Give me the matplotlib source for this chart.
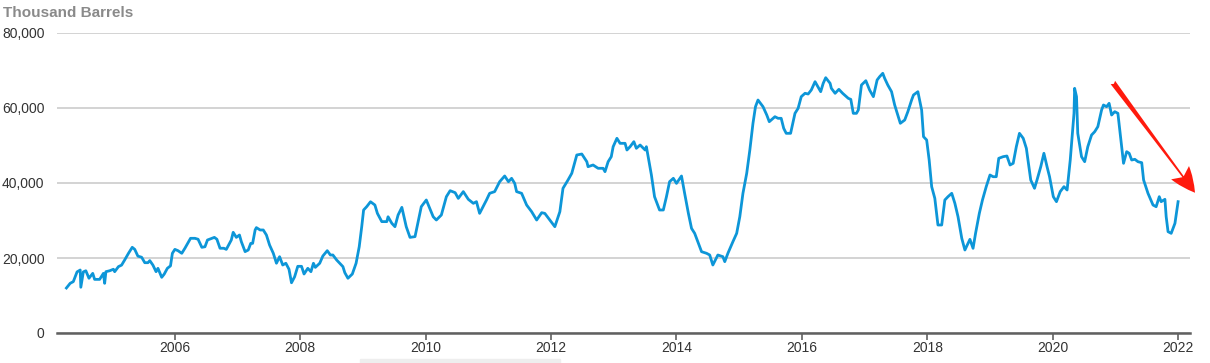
import matplotlib
matplotlib.use('Agg')
import matplotlib.pyplot as plt
from matplotlib.patches import Rectangle

plt.rcParams['font.family'] = ['Liberation Sans', 'DejaVu Sans']

# weekly stocks (year as decimal, thousand barrels)
years = [
    2004.27, 2004.33, 2004.38, 2004.44, 2004.49, 2004.50, 2004.54, 2004.58, 2004.63, 2004.69,
    2004.72, 2004.80, 2004.86, 2004.88, 2004.90, 2004.96, 2005.02, 2005.04, 2005.10, 2005.15,
    2005.20, 2005.26, 2005.32, 2005.36, 2005.41, 2005.47, 2005.52, 2005.57, 2005.60, 2005.65,
    2005.70, 2005.73, 2005.79, 2005.83, 2005.88, 2005.93, 2005.96, 2006.00, 2006.05, 2006.11,
    2006.16, 2006.21, 2006.25, 2006.32, 2006.37, 2006.43, 2006.48, 2006.52, 2006.59, 2006.63,
    2006.67, 2006.72, 2006.78, 2006.82, 2006.87, 2006.90, 2006.93, 2006.98, 2007.03, 2007.06,
    2007.12, 2007.17, 2007.21, 2007.24, 2007.28, 2007.30, 2007.36, 2007.41, 2007.46, 2007.51,
    2007.57, 2007.62, 2007.67, 2007.72, 2007.77, 2007.82, 2007.86, 2007.91, 2007.96, 2008.02,
    2008.06, 2008.12, 2008.17, 2008.21, 2008.24, 2008.31, 2008.36, 2008.43, 2008.48, 2008.52,
    2008.58, 2008.63, 2008.68, 2008.71, 2008.76, 2008.83, 2008.89, 2008.94, 2008.98, 2009.01,
    2009.06, 2009.12, 2009.19, 2009.23, 2009.30, 2009.38, 2009.40, 2009.46, 2009.51, 2009.56,
    2009.62, 2009.69, 2009.75, 2009.83, 2009.93, 2010.01, 2010.12, 2010.17, 2010.25, 2010.33,
    2010.39, 2010.47, 2010.52, 2010.60, 2010.68, 2010.76, 2010.81, 2010.86, 2010.97, 2011.02,
    2011.10, 2011.18, 2011.26, 2011.32, 2011.37, 2011.42, 2011.45, 2011.53, 2011.61, 2011.69,
    2011.77, 2011.85, 2011.90, 2011.98, 2012.06, 2012.14, 2012.19, 2012.27, 2012.33, 2012.41,
    2012.49, 2012.57, 2012.59, 2012.67, 2012.75, 2012.83, 2012.86, 2012.91, 2012.96, 2012.99,
    2013.05, 2013.10, 2013.18, 2013.21, 2013.26, 2013.32, 2013.36, 2013.42, 2013.50, 2013.52,
    2013.60, 2013.65, 2013.73, 2013.79, 2013.84, 2013.89, 2013.95, 2014.00, 2014.08, 2014.13,
    2014.19, 2014.24, 2014.29, 2014.35, 2014.40, 2014.48, 2014.53, 2014.58, 2014.66, 2014.74,
    2014.77, 2014.82, 2014.90, 2014.96, 2015.01, 2015.06, 2015.12, 2015.17, 2015.22, 2015.26,
    2015.30, 2015.38, 2015.44, 2015.48, 2015.54, 2015.57, 2015.62, 2015.67, 2015.71, 2015.75,
    2015.82, 2015.89, 2015.94, 2015.99, 2016.05, 2016.10, 2016.15, 2016.21, 2016.26, 2016.30,
    2016.34, 2016.38, 2016.45, 2016.47, 2016.53, 2016.59, 2016.65, 2016.68, 2016.74, 2016.78,
    2016.82, 2016.87, 2016.90, 2016.95, 2017.02, 2017.08, 2017.14, 2017.20, 2017.24, 2017.29,
    2017.32, 2017.37, 2017.43, 2017.48, 2017.53, 2017.57, 2017.64, 2017.69, 2017.75, 2017.78,
    2017.85, 2017.91, 2017.94, 2017.99, 2018.03, 2018.07, 2018.12, 2018.17, 2018.23, 2018.28,
    2018.33, 2018.39, 2018.44, 2018.49, 2018.55, 2018.60, 2018.65, 2018.68, 2018.73, 2018.77,
    2018.83, 2018.88, 2018.94, 2019.00, 2019.05, 2019.10, 2019.14, 2019.21, 2019.27, 2019.32,
    2019.37, 2019.42, 2019.47, 2019.53, 2019.58, 2019.65, 2019.71, 2019.75, 2019.81, 2019.86,
    2019.91, 2019.95, 2020.01, 2020.06, 2020.12, 2020.18, 2020.23, 2020.28, 2020.34, 2020.35,
    2020.38, 2020.40, 2020.46, 2020.51, 2020.56, 2020.62, 2020.67, 2020.72, 2020.78, 2020.81,
    2020.86, 2020.90, 2020.94, 2020.99, 2021.04, 2021.10, 2021.13, 2021.18, 2021.22, 2021.26,
    2021.31, 2021.36, 2021.42, 2021.45, 2021.52, 2021.60, 2021.65, 2021.70, 2021.73, 2021.79,
    2021.81, 2021.84, 2021.89, 2021.95, 2022.00,
]
stocks = [
    12000, 13250, 13700, 16300, 16800, 12200, 16300, 16600, 14600, 15900,
    14300, 14300, 15900, 13250, 16350, 16600, 17000, 16350, 17700, 18100,
    19500, 21250, 22850, 22300, 20500, 20200, 18750, 18750, 19300, 18100,
    16350, 17250, 14850, 15700, 17250, 17900, 21250, 22300, 21950, 21250,
    22600, 24100, 25250, 25250, 25000, 22850, 23000, 24800, 25250, 25500,
    25000, 22600, 22600, 22300, 23900, 24800, 26850, 25500, 26130, 24350,
    21700, 22130, 23900, 23900, 27470, 28100, 27470, 27470, 26130, 23470,
    21250, 18600, 20350, 18130, 18600, 17000, 13400, 15000, 17780, 17780,
    15730, 17250, 16350, 18600, 17500, 18600, 20530, 21950, 20800, 20800,
    19470, 18600, 17700, 16100, 14600, 15730, 18600, 23000, 28350, 32800,
    33700, 35000, 34130, 31900, 29700, 29700, 31000, 29250, 28350, 31470,
    33500, 28350, 25500, 25700, 33700, 35470, 31000, 30130, 31470, 36350,
    37950, 37420, 35900, 37700, 35650, 34580, 35020, 31900, 35470, 37250,
    37700, 40350, 41870, 40350, 41250, 39900, 37700, 37250, 34130, 32350,
    30130, 32080, 31900, 30130, 28350, 32350, 38580, 40800, 42580, 47470,
    47730, 45680, 44350, 44800, 43920, 43920, 43020, 45680, 47020, 49680,
    51920, 50580, 50580, 48800, 49680, 51020, 49250, 50130, 48800, 49680,
    42130, 36350, 32800, 32800, 36350, 40350, 41250, 39900, 41870, 37250,
    31900, 27900, 26580, 23920, 21680, 21250, 20800, 18130, 20800, 20350,
    19020, 21250, 24350, 26580, 31020, 37250, 42580, 48800, 55920, 60350,
    62130, 60350, 58130, 56350, 57250, 57680, 57250, 57250, 54580, 53250,
    53250, 58580, 59920, 63020, 63920, 63730, 64800, 67020, 65520, 64350,
    66580, 68080, 66580, 65250, 63920, 64980, 63920, 63470, 62580, 62300,
    58580, 58580, 59470, 66130, 67280, 64800, 63020, 67470, 68350, 69250,
    67920, 66130, 64350, 60800, 58130, 55920, 56800, 59020, 62130, 63470,
    64350, 59470, 52350, 51470, 46130, 39020, 35920, 28800, 28800, 35470,
    36350, 37250, 34580, 31020, 25250, 22130, 23920, 24980, 22580, 26580,
    31900, 35470, 39020, 42130, 41680, 41680, 46580, 47020, 47200, 44800,
    45250, 49680, 53250, 51920, 49250, 40800, 38580, 40800, 44350, 47920,
    44350, 41680, 36350, 35020, 37700, 39020, 38130, 46130, 58580, 65250,
    63020, 53250, 47020, 45680, 49680, 52800, 53680, 55020, 59470, 60800,
    60350, 61250, 58130, 59020, 58580, 49680, 45250, 48350, 47920, 46130,
    46320, 45680, 45420, 40800, 37250, 34130, 33680, 36350, 35020, 35650,
    31020, 27020, 26580, 29250, 35020,
]

tick_years = [2006, 2008, 2010, 2012, 2014, 2016, 2018, 2020, 2022]
y_ticks = [0, 20000, 40000, 60000, 80000]

fig = plt.figure(figsize=(12.1, 3.63), dpi=100)
ax = fig.add_axes([57/1210, 30/363, 1133/1210, 300/363])

ax.plot(years, stocks, color='#0d96d8', lw=2.0, solid_joinstyle='round')

ax.set_xlim(2004.12, 2022.19)
ax.set_ylim(0, 80000)
ax.set_yticks(y_ticks)
ax.set_yticklabels(['{:,}'.format(v) for v in y_ticks])
ax.set_xticks(tick_years)
ax.set_xticklabels([str(y) for y in tick_years])

ax.grid(axis='y', color='#cccccc', lw=1.2)
ax.set_axisbelow(True)
for s in ['top', 'right', 'left']:
    ax.spines[s].set_visible(False)
ax.spines['bottom'].set_color('#606060')
ax.spines['bottom'].set_linewidth(1.8)
ax.spines['bottom'].set_zorder(3)

ax.tick_params(axis='y', length=0, pad=9, labelsize=10, labelcolor='#333333')
ax.tick_params(axis='x', length=5, width=1.2, color='#606060', pad=1,
               labelsize=10, labelcolor='#333333')

fig.text(3/1210, 1 - 13/363, 'Thousand Barrels', fontsize=11, fontweight='bold',
         color='#8a8a8a', va='center', ha='left')

# red arrow pointing down to the right
ax.annotate('', xy=(2022.27, 37400), xytext=(2020.96, 66800),
            arrowprops=dict(arrowstyle='fancy,head_length=0.9,head_width=0.8,tail_width=0.2',
                            mutation_scale=20, color='#ff1a0d', lw=0,
                            shrinkA=0, shrinkB=0),
            annotation_clip=False)

# faint strip at the bottom edge
fig.patches.append(Rectangle((360/1210, 0), 200/1210, 4/363, transform=fig.transFigure,
                             color='#eeeeee', zorder=0))

fig.savefig('out.png', dpi=100)
